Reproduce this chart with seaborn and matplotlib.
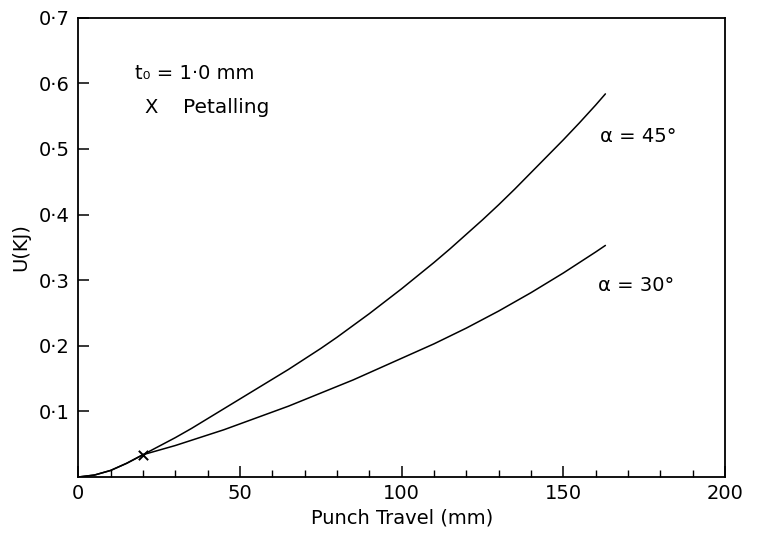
import numpy as np
import pandas as pd
import matplotlib
matplotlib.use("Agg")
import matplotlib.pyplot as plt
from matplotlib.ticker import MultipleLocator, FixedLocator
import seaborn as sns

# Data
travel_45 = [0, 5, 10, 15, 20, 25, 30, 35, 40, 45, 50, 55, 60, 65, 70, 75, 80, 85, 90, 95,
             100, 105, 110, 115, 120, 125, 130, 135, 140, 145, 150, 155, 160, 163]
energy_45 = [0, 0.003, 0.010, 0.021, 0.034, 0.047, 0.060, 0.074, 0.089, 0.104, 0.119, 0.134,
             0.149, 0.164, 0.180, 0.196, 0.213, 0.231, 0.249, 0.268, 0.287, 0.307, 0.327,
             0.348, 0.370, 0.392, 0.415, 0.439, 0.464, 0.489, 0.514, 0.540, 0.567, 0.584]
travel_30 = [0, 5, 10, 15, 20, 25, 30, 35, 40, 45, 50, 55, 60, 65, 70, 75, 80, 85, 90, 95,
             100, 105, 110, 115, 120, 125, 130, 135, 140, 145, 150, 155, 160, 163]
energy_30 = [0, 0.003, 0.010, 0.021, 0.034, 0.041, 0.048, 0.056, 0.064, 0.072, 0.081, 0.090,
             0.099, 0.108, 0.118, 0.128, 0.138, 0.148, 0.159, 0.170, 0.181, 0.192, 0.203,
             0.215, 0.227, 0.240, 0.253, 0.267, 0.281, 0.296, 0.311, 0.327, 0.343, 0.353]
petal_x = [20]
petal_y = [0.034]
y_ticks = [0.1, 0.2, 0.3, 0.4, 0.5, 0.6, 0.7]
y_tick_labels = ["0·1", "0·2", "0·3", "0·4", "0·5", "0·6", "0·7"]
x_ticks = [0, 50, 100, 150, 200]
x_tick_labels = ["0", "50", "100", "150", "200"]

df = pd.concat([
    pd.DataFrame({"travel": travel_45, "U": energy_45, "angle": "45"}),
    pd.DataFrame({"travel": travel_30, "U": energy_30, "angle": "30"}),
])

sns.set_theme(style="ticks")
plt.rcParams["font.family"] = ["DejaVu Sans"]
plt.rcParams["text.color"] = "black"
plt.rcParams["axes.labelcolor"] = "black"

fig = plt.figure(figsize=(7.6, 5.39), dpi=100)
ax = fig.add_axes([0.103, 0.115, 0.851, 0.852])

sns.lineplot(data=df, x="travel", y="U", hue="angle", palette=["black", "black"],
             linewidth=1.1, legend=False, ax=ax, estimator=None, sort=True)
ax.scatter(petal_x, petal_y, marker="x", color="black", s=45, linewidths=1.4, zorder=5)

ax.set_xlim(0, 200)
ax.set_ylim(0, 0.7)

ax.xaxis.set_major_locator(FixedLocator(x_ticks))
ax.set_xticklabels(x_tick_labels)
ax.xaxis.set_minor_locator(MultipleLocator(10))
ax.yaxis.set_major_locator(FixedLocator(y_ticks))
ax.set_yticklabels(y_tick_labels)

ax.tick_params(axis="x", which="major", direction="in", length=8, width=1.1,
               labelsize=14, pad=5, colors="black")
ax.tick_params(axis="x", which="minor", direction="in", length=5, width=1.0, colors="black")
ax.tick_params(axis="y", which="major", direction="in", length=8, width=1.1,
               labelsize=14, pad=6, colors="black")

for s in ax.spines.values():
    s.set_linewidth(1.3)
    s.set_color("black")
    s.set_visible(True)

ax.set_xlabel("Punch Travel (mm)", fontsize=14, labelpad=4)
ax.set_ylabel("U(KJ)", fontsize=14, labelpad=6)

ax.text(0.088, 0.878, "t₀ = 1·0 mm", transform=ax.transAxes, fontsize=14, va="center")
ax.text(0.103, 0.804, "X", transform=ax.transAxes, fontsize=14, va="center")
ax.text(0.162, 0.804, "Petalling", transform=ax.transAxes, fontsize=14.5, va="center")
ax.text(0.807, 0.741, "α = 45°", transform=ax.transAxes, fontsize=14, va="center")
ax.text(0.804, 0.418, "α = 30°", transform=ax.transAxes, fontsize=14, va="center")

fig.savefig("out.png", dpi=100)
